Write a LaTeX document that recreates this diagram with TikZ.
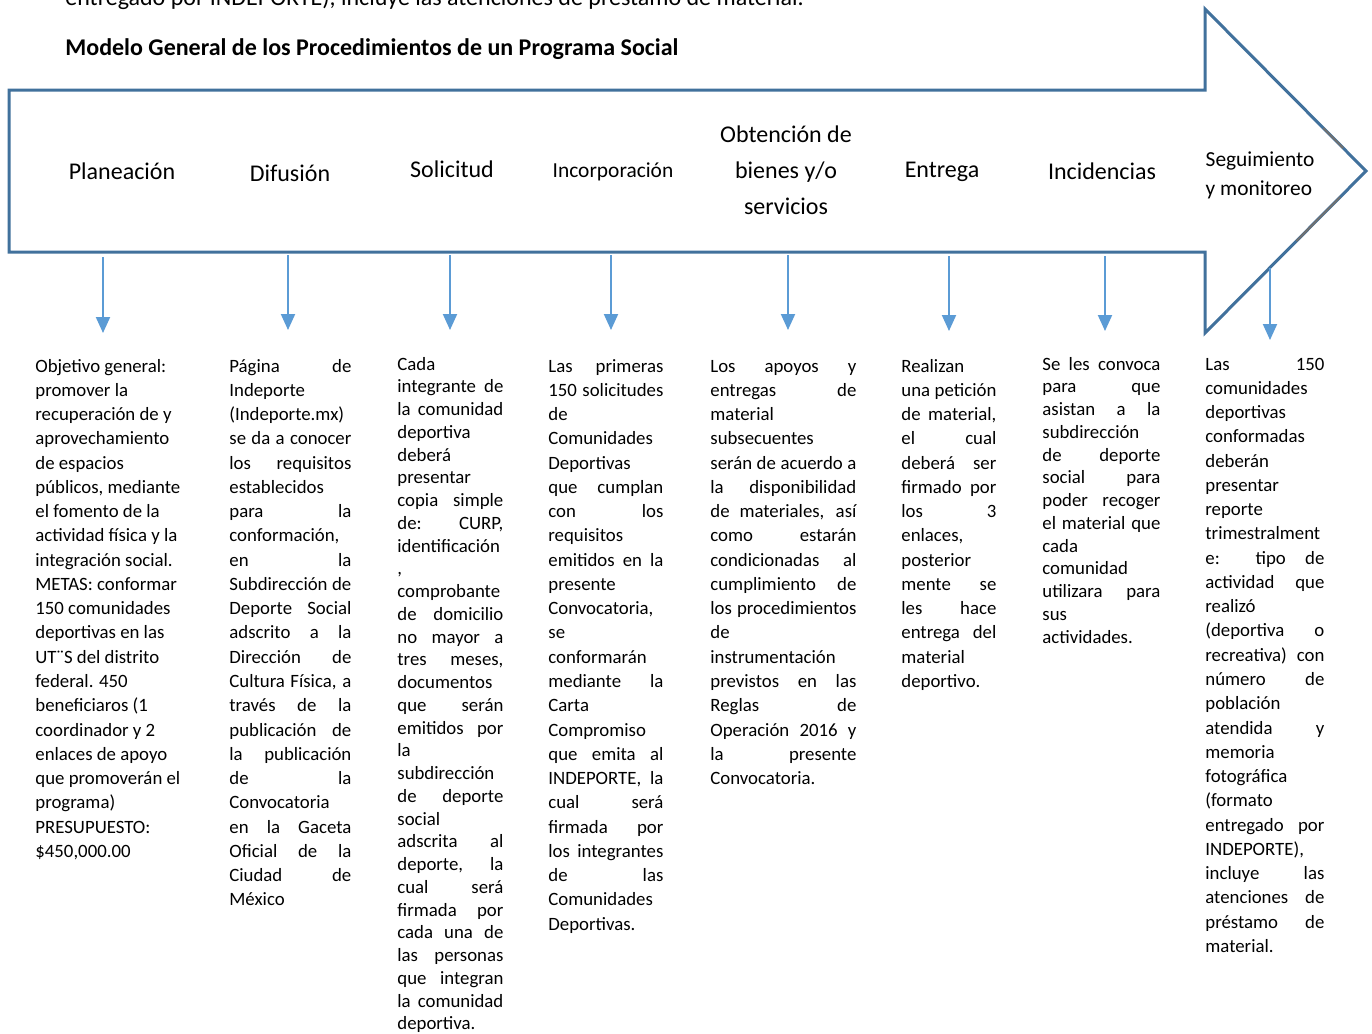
\documentclass[tikz,border=0pt]{standalone}
\usepackage{fontspec}
\setmainfont{Carlito}
\usepackage{tikz}
\usetikzlibrary{arrows.meta,positioning,calc}
\definecolor{fedge}{HTML}{41719C}
\definecolor{fdrop}{HTML}{5B9BD5}
\definecolor{fscan}{HTML}{707070}
\tikzset{
  stage/.style    = {inner sep=0pt, anchor=base, font=\fontsize{12}{18}\selectfont},
  coltext/.style  = {inner sep=0pt, anchor=base west, font=\fontsize{9.4}{12.135}\selectfont},
  drop/.style     = {-{Triangle[length=8pt,width=7pt]}, fdrop, line width=1pt},
  bigarrow/.style = {fedge, line width=1.5pt, line join=miter},
}
\hbadness=10000
\newcommand\jline[1]{\hbox to\hsize{#1}}
\newcommand\rline[1]{\hbox to\hsize{#1\hfil}}
\newcommand\colbox[3]{\vtop{\hsize=#1\baselineskip=#2\lineskiplimit=-20pt\relax #3}}

\begin{document}
\begin{tikzpicture}[x=0.5pt,y=-0.5pt]
\fill[white] (0,0) rectangle (1372,1034);
\useasboundingbox (0,0) rectangle (1372,1034);
\node[inner sep=0pt,anchor=base west,font=\fontsize{12}{14}\selectfont] (prev) at (65,5)
  {entregado por INDEPORTE), incluye las atenciones de préstamo de material.};
\node[inner sep=0pt,anchor=base west,font=\bfseries\fontsize{12}{14}\selectfont] (title) at (65,55)
  {Modelo General de los Procedimientos de un Programa Social};
% block arrow
\coordinate (bodytl) at (9,90);
\coordinate (bodytr) at (1205,90);
\coordinate (headtop) at (1205,9);
\coordinate (tip) at (1366,171);
\coordinate (headbot) at (1205,333);
\coordinate (bodybr) at (1205,252);
\coordinate (bodybl) at (9,252);
\draw[bigarrow] (bodytl) -- (bodytr) -- (headtop) -- (tip) -- (headbot) -- (bodybr) -- (bodybl) -- cycle;
\draw[fscan,line width=1pt] ($(headtop)!0.735!(tip)$) -- ($(headtop)!0.858!(tip)$);
\draw[fscan,line width=1pt] ($(tip)!0.16!(headbot)$) -- ($(tip)!0.432!(headbot)$);
% stages
\node[stage] (plan) at (122,179) {Planeación};
\node[stage] (difu) at (290,181) {Difusión};
\node[stage] (soli) at (452,177) {Solicitud};
\node[stage,font=\fontsize{10.7}{14}\selectfont] (inco) at (613,177) {Incorporación};
\node[stage,anchor=center,align=center,font=\fontsize{12}{18}\selectfont] (obte) at (786,170)
  {Obtención de\\bienes y/o\\servicios};
\node[stage] (entr) at (942,177) {Entrega};
\node[stage] (inci) at (1102,179) {Incidencias};
\node[stage,anchor=center,align=left,font=\fontsize{10.7}{14.5}\selectfont] (segu) at (1260,175)
  {Seguimiento\\y monitoreo};
% drops
\foreach \n/\x/\ya/\yb in {1/103/257/333, 2/288/255/330, 3/450/255/330, 4/611/255/330,
  5/788/255/330, 6/949/256/331, 7/1105/256/331, 8/1270/268/340}{
  \coordinate (from\n) at (\x,\ya);
  \coordinate (to\n) at (\x,\yb);
  \draw[drop] (from\n) -- (to\n);}
% texts
\node[coltext] (plantxt) at (35,372) {\colbox{80pt}{12.135pt}{
  \rline{Objetivo general:}
  \rline{promover la}
  \rline{recuperación de y}
  \rline{aprovechamiento}
  \rline{de espacios}
  \rline{públicos, mediante}
  \rline{el fomento de la}
  \rline{actividad física y la}
  \rline{integración social.}
  \rline{METAS: conformar}
  \rline{150 comunidades}
  \rline{deportivas en las}
  \rline{UT¨S del distrito}
  \rline{federal. 450}
  \rline{beneficiaros (1}
  \rline{coordinador y 2}
  \rline{enlaces de apoyo}
  \rline{que promoverán el}
  \rline{programa)}
  \rline{PRESUPUESTO:}
  \rline{\$450,000.00}}};
\node[coltext] (difutxt) at (229,372) {\colbox{61pt}{12.135pt}{
  \jline{Página de}
  \rline{Indeporte}
  \rline{(Indeporte.mx)}
  \jline{se da a conocer}
  \jline{los requisitos}
  \rline{establecidos}
  \jline{para la}
  \rline{conformación,}
  \jline{en la}
  \jline{Subdirección de}
  \jline{Deporte Social}
  \jline{adscrito a la}
  \jline{Dirección de}
  \jline{Cultura Física, a}
  \jline{través de la}
  \jline{publicación de}
  \jline{la publicación}
  \jline{de la}
  \rline{Convocatoria}
  \jline{en la Gaceta}
  \jline{Oficial de la}
  \jline{Ciudad de}
  \rline{México}}};
\node[coltext] (solitxt) at (397,370) {\colbox{53pt}{11.375pt}{
  \rline{Cada}
  \jline{integrante de}
  \jline{la comunidad}
  \rline{deportiva}
  \rline{deberá}
  \rline{presentar}
  \jline{copia simple}
  \jline{de: CURP,}
  \rline{identificación}
  \rline{,}
  \rline{comprobante}
  \jline{de domicilio}
  \jline{no mayor a}
  \jline{tres meses,}
  \rline{documentos}
  \jline{que serán}
  \jline{emitidos por}
  \rline{la}
  \rline{subdirección}
  \jline{de deporte}
  \rline{social}
  \jline{adscrita al}
  \jline{deporte, la}
  \jline{cual será}
  \jline{firmada por}
  \jline{cada una de}
  \jline{las personas}
  \jline{que integran}
  \jline{la comunidad}
  \rline{deportiva.}}};
\node[coltext] (incotxt) at (548,372) {\colbox{57.5pt}{12.135pt}{
  \jline{Las primeras}
  \jline{150 solicitudes}
  \rline{de}
  \rline{Comunidades}
  \rline{Deportivas}
  \jline{que cumplan}
  \jline{con los}
  \rline{requisitos}
  \jline{emitidos en la}
  \rline{presente}
  \rline{Convocatoria,}
  \rline{se}
  \rline{conformarán}
  \jline{mediante la}
  \rline{Carta}
  \rline{Compromiso}
  \jline{que emita al}
  \jline{INDEPORTE, la}
  \jline{cual será}
  \jline{firmada por}
  \jline{los integrantes}
  \jline{de las}
  \rline{Comunidades}
  \rline{Deportivas.}}};
\node[coltext] (obtetxt) at (710,372) {\colbox{73pt}{12.135pt}{
  \jline{Los apoyos y}
  \jline{entregas de}
  \rline{material}
  \rline{subsecuentes}
  \jline{serán de acuerdo a}
  \jline{la disponibilidad}
  \jline{de materiales, así}
  \jline{como estarán}
  \jline{condicionadas al}
  \jline{cumplimiento de}
  \jline{los procedimientos}
  \rline{de}
  \rline{instrumentación}
  \jline{previstos en las}
  \jline{Reglas de}
  \jline{Operación 2016 y}
  \jline{la presente}
  \rline{Convocatoria.}}};
\node[coltext] (entrtxt) at (901,372) {\colbox{47.5pt}{12.135pt}{
  \rline{Realizan}
  \jline{una petición}
  \jline{de material,}
  \jline{el cual}
  \jline{deberá ser}
  \jline{firmado por}
  \jline{los 3}
  \rline{enlaces,}
  \rline{posterior}
  \jline{mente se}
  \jline{les hace}
  \jline{entrega del}
  \rline{material}
  \rline{deportivo.}}};
\node[coltext] (incitxt) at (1042,370) {\colbox{59pt}{11.375pt}{
  \jline{Se les convoca}
  \jline{para que}
  \jline{asistan a la}
  \rline{subdirección}
  \jline{de deporte}
  \jline{social para}
  \jline{poder recoger}
  \jline{el material que}
  \rline{cada}
  \rline{comunidad}
  \jline{utilizara para}
  \rline{sus}
  \rline{actividades.}}};
\node[coltext] (segutxt) at (1205,370) {\colbox{59.5pt}{12.135pt}{
  \jline{Las 150}
  \rline{comunidades}
  \rline{deportivas}
  \rline{conformadas}
  \rline{deberán}
  \rline{presentar}
  \rline{reporte}
  \rline{trimestralment}
  \jline{e: tipo de}
  \jline{actividad que}
  \rline{realizó}
  \jline{(deportiva o}
  \jline{recreativa) con}
  \jline{número de}
  \rline{población}
  \jline{atendida y}
  \rline{memoria}
  \rline{fotográfica}
  \rline{(formato}
  \jline{entregado por}
  \rline{INDEPORTE),}
  \jline{incluye las}
  \jline{atenciones de}
  \jline{préstamo de}
  \rline{material.}}};
\end{tikzpicture}
\end{document}
